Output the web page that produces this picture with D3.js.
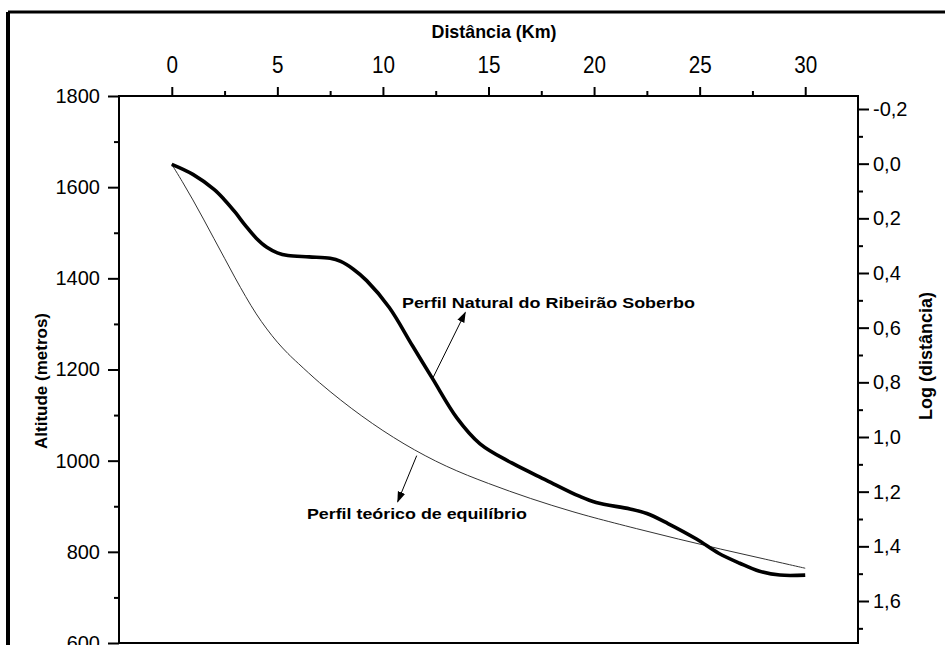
<!DOCTYPE html>
<html>
<head>
<meta charset="utf-8">
<script src="https://cdn.jsdelivr.net/npm/d3@7/dist/d3.min.js"></script>
<style>
  html, body { margin: 0; padding: 0; background: #fff; }
  svg { display: block; }
  .sans { font-family: "Liberation Sans", Arial, sans-serif; }
</style>
</head>
<body>
<svg id="chart" width="945" height="645"></svg>
<script>
// ---- Data ----
// Natural river profile: distance (km) and altitude (m)
const naturalKm  = [0, 1, 2, 2.5, 3, 3.5, 4, 4.5, 5, 5.5, 6.5, 7.5, 8.0, 8.6, 9.23, 10.3, 11.4, 12.35, 13.5, 14.6, 16.1, 17.75, 19.3, 20.1, 21.7, 22.5, 23.5, 24.85, 25.9, 26.9, 27.8, 28.8, 30.0];
const naturalAlt = [1650, 1628, 1595, 1572, 1545, 1515, 1488, 1468, 1456, 1450, 1447, 1444, 1437, 1420, 1395, 1336, 1252, 1180, 1094, 1037, 995, 957, 922, 908, 894, 884, 862, 828, 797, 775, 758, 749, 749];

// Theoretical equilibrium profile
const theoKm  = [0, 0.5, 1, 1.5, 2, 2.5, 3, 3.5, 4, 4.5, 5, 5.5, 6, 7, 8, 9, 10, 11, 12, 13, 14, 15, 16, 17, 18, 19, 20, 22, 24, 26, 28, 30];
const theoAlt = [1650, 1612, 1572, 1530, 1487, 1444, 1401, 1360, 1322, 1289, 1260, 1235, 1213, 1171, 1133, 1098, 1066, 1037, 1011, 988, 968, 950, 933, 917, 902, 888, 875, 851, 828, 806, 785, 764];

// Tick values
const topTicks   = [0, 5, 10, 15, 20, 25, 30];
const topMinor   = [2.5, 7.5, 12.5, 17.5, 22.5, 27.5];
const leftTicks  = [600, 800, 1000, 1200, 1400, 1600, 1800];
const leftMinor  = [700, 900, 1100, 1300, 1500, 1700];
const rightTicks = [-0.2, 0.0, 0.2, 0.4, 0.6, 0.8, 1.0, 1.2, 1.4, 1.6];
const rightMinor = [-0.1, 0.1, 0.3, 0.5, 0.7, 0.9, 1.1, 1.3, 1.5, 1.7];

// Annotations (data units: km, m)
const labelNatural = { text: "Perfil Natural do Ribeirão Soberbo", km: 10.9, alt: 1347 };
const arrowNatural = { fromKm: 12.35, fromAlt: 1180, toKm: 13.9, toAlt: 1325 };
const labelTheo    = { text: "Perfil teórico de equilíbrio", km: 6.4, alt: 883 };
const arrowTheo    = { fromKm: 11.6, fromAlt: 1011, toKm: 10.7, toAlt: 910 };

// ---- Layout ----
const L = 119, R = 858, T = 96, B = 643;
const svg = d3.select("#chart");

const x  = d3.scaleLinear().domain([-2.5, 32.5]).range([L, R]);
const yL = d3.scaleLinear().domain([600, 1800]).range([B, T]);
const yRbase = d3.scaleLinear().domain([-0.2, 1.6]).range([109, 601]);
const yR = d3.scaleLinear().domain([yRbase.invert(T), yRbase.invert(B)]).range([T, B]);

// outer frame (left + top)
svg.append("line").attr("x1", 8).attr("y1", 12).attr("x2", 945).attr("y2", 12)
  .attr("stroke", "#000").attr("stroke-width", 3);
svg.append("line").attr("x1", 8).attr("y1", 12).attr("x2", 8).attr("y2", 645)
  .attr("stroke", "#000").attr("stroke-width", 4);

// plot frame
svg.append("rect").attr("x", L).attr("y", T).attr("width", R - L).attr("height", B - T)
  .attr("fill", "none").attr("stroke", "#000").attr("stroke-width", 2);

// top axis
const gTop = svg.append("g").attr("transform", `translate(0,${T})`);
gTop.call(d3.axisTop(x).tickValues(topTicks).tickSize(9).tickPadding(14).tickFormat(d3.format("d")));
gTop.append("g").call(d3.axisTop(x).tickValues(topMinor).tickSize(5).tickFormat(""));
gTop.selectAll(".domain").remove();
gTop.selectAll("line").attr("stroke", "#000").attr("stroke-width", 2);
gTop.selectAll("text").attr("class", "sans").style("font-size", "23px").attr("fill", "#000")
  .attr("textLength", d => String(d).length * 11.5).attr("lengthAdjust", "spacingAndGlyphs");

// left axis
const gLeft = svg.append("g").attr("transform", `translate(${L},0)`);
gLeft.call(d3.axisLeft(yL).tickValues(leftTicks).tickSize(11).tickPadding(8).tickFormat(d3.format("d")));
gLeft.append("g").call(d3.axisLeft(yL).tickValues(leftMinor).tickSize(5).tickFormat(""));
gLeft.selectAll(".domain").remove();
gLeft.selectAll("line").attr("stroke", "#000").attr("stroke-width", 2);
gLeft.selectAll("text").attr("class", "sans").style("font-size", "20px").attr("fill", "#000");

// right axis
const commaFmt = d => d3.format(".1f")(d).replace("−", "-").replace(".", ",");
const gRight = svg.append("g").attr("transform", `translate(${R},0)`);
gRight.call(d3.axisRight(yR).tickValues(rightTicks).tickSize(11).tickPadding(4).tickFormat(commaFmt));
gRight.append("g").call(d3.axisRight(yR).tickValues(rightMinor).tickSize(5).tickFormat(""));
gRight.selectAll(".domain").remove();
gRight.selectAll("line").attr("stroke", "#000").attr("stroke-width", 2);
gRight.selectAll("text").attr("class", "sans").style("font-size", "20px").attr("fill", "#000");

// axis titles
svg.append("text").attr("class", "sans").attr("x", 494).attr("y", 38)
  .attr("text-anchor", "middle").style("font-size", "19px").style("font-weight", "bold")
  .attr("textLength", 125).attr("lengthAdjust", "spacingAndGlyphs")
  .text("Distância (Km)");
svg.append("text").attr("class", "sans")
  .attr("transform", `translate(47,381) rotate(-90)`)
  .attr("text-anchor", "middle").style("font-size", "17px").style("font-weight", "bold")
  .text("Altitude (metros)");
svg.append("text").attr("class", "sans")
  .attr("transform", `translate(932,356) rotate(-90)`)
  .attr("text-anchor", "middle").style("font-size", "18px").style("font-weight", "bold")
  .text("Log (distância)");

// curves
const natural = naturalKm.map((k, i) => [k, naturalAlt[i]]);
const theo = theoKm.map((k, i) => [k, theoAlt[i]]);
const line = d3.line().x(d => x(d[0])).y(d => yL(d[1])).curve(d3.curveCatmullRom.alpha(0.5));

svg.append("path").datum(theo).attr("d", line).attr("fill", "none")
  .attr("stroke", "#333").attr("stroke-width", 1);
svg.append("path").datum(natural).attr("d", line).attr("fill", "none")
  .attr("stroke", "#000").attr("stroke-width", 3.6).attr("stroke-linejoin", "round");

// arrows
const defs = svg.append("defs");
defs.append("marker").attr("id", "ah").attr("viewBox", "0 0 10 10")
  .attr("refX", 9).attr("refY", 5).attr("markerWidth", 11).attr("markerHeight", 11)
  .attr("markerUnits", "userSpaceOnUse").attr("orient", "auto")
  .append("path").attr("d", "M0,1.5 L10,5 L0,8.5 Z").attr("fill", "#000");

[arrowNatural, arrowTheo].forEach(a => {
  svg.append("line")
    .attr("x1", x(a.fromKm)).attr("y1", yL(a.fromAlt))
    .attr("x2", x(a.toKm)).attr("y2", yL(a.toAlt))
    .attr("stroke", "#000").attr("stroke-width", 1)
    .attr("marker-end", "url(#ah)");
});

// labels
const labelWidths = [293, 220];
[labelNatural, labelTheo].forEach((l, i) => {
  svg.append("text").attr("class", "sans")
    .attr("x", x(l.km)).attr("y", yL(l.alt)).attr("dy", "0.35em")
    .style("font-size", "15.5px").style("font-weight", "bold").attr("fill", "#000")
    .attr("textLength", labelWidths[i]).attr("lengthAdjust", "spacingAndGlyphs")
    .text(l.text);
});
</script>
</body>
</html>
